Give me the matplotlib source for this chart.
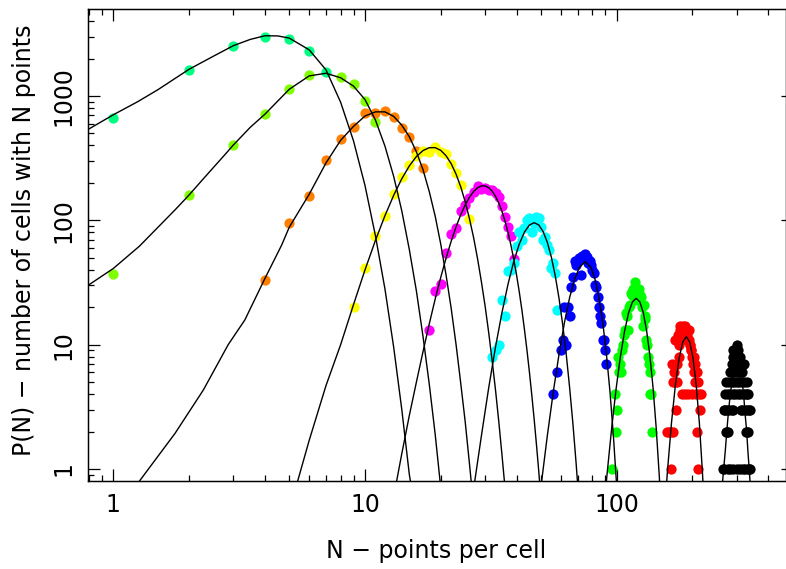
import matplotlib.pyplot as plt
from matplotlib.ticker import NullFormatter, NullLocator

plt.rcParams['font.family'] = ['DejaVu Sans']
plt.rcParams['font.size'] = 17

# measured counts: N (points per cell) and P(N) for each cell size
n1 = [1, 2, 3, 4, 5, 6, 7]
p1 = [670, 1620, 2540, 3000, 2860, 2290, 1570]

n2 = [1, 2, 3, 4, 5, 6, 8, 9, 10, 11]
p2 = [37, 160, 404, 713, 1132, 1475, 1414, 1250, 912, 615]

n3 = [4, 5, 6, 7, 8, 9, 10, 11, 12, 13, 14, 15, 16, 17]
p3 = [33, 95, 158, 304, 449, 560, 726, 728, 762, 682, 556, 471, 361, 262]

n4 = [9, 10, 11, 12, 13, 14, 15, 16, 17, 18, 19, 20, 21, 22, 23, 24, 25, 26]
p4 = [20, 41, 75, 108, 162, 223, 279, 330, 363, 357, 387, 357, 342, 284, 239, 192, 133, 102]

n5 = [18, 19, 20, 21, 22, 23, 24, 25, 26, 27, 28, 29, 30, 31, 32, 33, 34, 35, 36, 37, 38, 39]
p5 = [13, 27, 31, 55, 78, 87, 118, 133, 152, 170, 188, 180, 182, 176, 174, 165, 155, 130, 107, 89, 75, 49]

n6 = [32, 33, 34, 35, 36, 37, 38, 39, 40, 41, 42, 43, 44, 45, 46, 47, 48, 49, 50,
      51, 52, 53, 54, 55, 56, 57, 58]
p6 = [8, 9, 10, 23, 17, 39, 40, 45, 62, 81, 70, 86, 100, 104, 81, 95, 107, 104, 89,
      69, 74, 63, 58, 41, 45, 38, 19]

n7 = [56, 58, 60, 61, 62, 63, 64, 65, 66, 67, 68, 69, 70, 71, 72, 73, 74, 75, 76,
      77, 78, 79, 80, 81, 82, 83, 84, 85, 86, 87, 88, 89, 90, 91]
p7 = [4, 6, 9, 11, 20, 10, 20, 17, 29, 35, 47, 44, 48, 50, 36, 52, 50, 54, 51,
      45, 47, 44, 40, 38, 30, 29, 24, 20, 17, 15, 11, 11, 9, 7]

n8 = [96, 98, 99, 100, 101, 102, 103, 104, 105, 106, 107, 108, 109, 110, 111, 112,
      113, 114, 115, 116, 117, 118, 119, 120, 121, 122, 123, 124, 125, 126, 127,
      128, 129, 130, 131, 132, 133, 134, 135, 136, 137, 138]
p8 = [1, 4, 2, 3, 8, 6, 7, 6, 9, 10, 12, 13, 18, 17, 13, 20,
      21, 26, 25, 28, 27, 32, 25, 23, 26, 24, 28, 25, 24, 20, 14,
      21, 17, 16, 11, 10, 8, 7, 6, 4, 4, 2]

n9 = [159, 161, 164, 165, 166, 167, 168, 169, 170, 171, 172, 173, 174, 175, 176,
      177, 178, 179, 180, 181, 182, 183, 184, 185, 186, 187, 188, 189, 190, 191,
      192, 193, 194, 195, 196, 197, 198, 199, 200, 201, 202, 203, 204, 205, 206,
      207, 208, 209, 210, 211, 212, 214, 216]
p9 = [2, 2, 1, 2, 7, 5, 2, 6, 5, 11, 3, 7, 5, 12, 8,
      10, 13, 14, 11, 4, 12, 14, 13, 13, 4, 14, 12, 13, 12, 11,
      4, 11, 13, 10, 10, 9, 9, 4, 8, 7, 6, 8, 5, 7, 4,
      6, 6, 2, 5, 1, 4, 3, 4]

n10 = [264, 268, 276, 283, 291, 300, 309, 317, 324, 331, 336, 340,
       271, 274, 277, 325, 328, 331,
       266, 270, 275, 280, 286, 290, 311, 316, 322, 328, 334, 339,
       270, 276, 282, 289, 296, 303, 310, 317, 324, 330, 333,
       273, 279, 286, 293, 300, 307, 314, 321, 328,
       282, 288, 295, 302, 309, 316,
       286, 292, 299, 306, 313, 320,
       291, 297, 303, 308,
       291, 297, 304,
       300]
p10 = [1] * 12 + [2] * 6 + [3] * 12 + [4] * 11 + [5] * 9 + [6] * 6 + [7] * 6 + [8] * 4 + [9] * 3 + [10]

colors = ['#00ff80', '#80ff00', '#ff8000', '#ffff00', '#ff00ff',
          '#00ffff', '#0000ff', '#00ff00', '#ff0000', '#000000']

# model curves
c1x = [0.79, 1, 1.25, 1.5, 2, 2.5, 3, 3.5, 4, 4.5, 5, 6, 7, 8, 9, 10, 11, 12, 13, 14, 15, 15.5]
c1y = [535, 706, 900, 1120, 1640, 2090, 2540, 2850, 3050, 3040, 2920, 2350, 1620, 890,
       435, 190, 75, 28, 9.5, 3.0, 0.9, 0.6]

c2x = [0.79, 1, 1.27, 1.77, 2, 2.27, 2.77, 3, 3.5, 4, 5, 6, 7, 8, 9, 10, 11, 12, 13,
       14, 15, 16, 17, 18, 19, 20]
c2y = [29.8, 41, 62, 123, 160, 214, 336, 404, 560, 713, 1132, 1450, 1523, 1400, 1200,
       935, 640, 395, 225, 119, 58, 27, 11.6, 4.8, 1.9, 0.7]

c3x = [1.27, 1.76, 2.28, 2.86, 3.33, 4, 4.66, 5, 6, 7, 8, 9, 10, 11, 12, 13, 14, 15,
       16, 17, 18, 19, 20, 21, 22, 23, 24, 25, 26, 27]
c3y = [0.8, 1.94, 4.33, 10, 15.8, 34, 63, 88, 162, 290, 440, 570, 690, 745, 745, 685,
       582, 470, 355, 255, 170, 108, 64, 36, 19.5, 10, 4.9, 2.4, 1.1, 0.5]

c4x = [5.3, 6, 7, 8, 9, 10, 11, 12, 13, 14, 15, 16, 17, 18, 19, 20, 21, 22, 23, 24,
       25, 26, 27, 28, 29, 30, 31, 32, 33, 34, 35, 36, 37]
c4y = [0.7, 1.7, 4.7, 10, 21, 40, 69, 109, 159, 216, 274, 326, 364, 384, 384, 365, 330,
       285, 235, 186, 141, 103, 72.6, 49, 32, 20.4, 12.5, 7.4, 4.3, 2.4, 1.3, 0.7, 0.4]

c5x = [13, 14, 15, 16, 17, 18, 19, 20, 21, 22, 23, 24, 25, 26, 27, 28, 29, 30, 31, 32,
       33, 34, 35, 36, 37, 38, 39, 40, 41, 42, 43, 44, 45, 46, 47, 48, 49, 50]
c5y = [0.6, 1.33, 2.7, 5.0, 8.8, 14.7, 23.3, 34.9, 49.9, 68, 88.7, 110.8, 133, 153.5,
       170.5, 182.7, 189, 189, 182.9, 171.5, 155.9, 137.6, 117.9, 98.3, 79.7, 62.9,
       48.4, 36.3, 26.6, 19.0, 13.2, 9.0, 6.0, 3.9, 2.5, 1.56, 0.96, 0.57]

c6x = [27, 29, 31, 33, 35, 37, 39, 41, 43, 45, 47, 49, 51, 53, 55, 57, 59, 61, 63, 65,
       67, 69, 71]
c6y = [0.69, 1.85, 4.5, 9.6, 18.1, 30.7, 46.8, 64.4, 80.5, 91.7, 95.7, 91.8, 81.2, 66.5,
       50.5, 35.7, 23.5, 14.5, 8.4, 4.5, 2.3, 1.1, 0.5]

c7x = [50, 53, 56, 59, 62, 65, 68, 71, 75, 79, 82, 85, 88, 91, 94, 97, 100, 102]
c7y = [0.72, 1.85, 4.2, 8.4, 15.1, 23.9, 33.5, 41.8, 46.5, 41.8, 33.5, 23.9, 15.1, 8.4,
       4.2, 1.85, 0.72, 0.4]

c8x = [89.5, 91.5, 95.5, 99.5, 103.5, 107.5, 111.5, 115.5, 119.5, 123.5, 127.5, 131.5,
       135.5, 139.5, 143.5, 147.5, 149.5, 151.5]
c8y = [0.55, 0.90, 2.14, 4.46, 8.1, 12.9, 18.1, 22.1, 23.6, 22.1, 18.1, 12.9, 8.1, 4.46,
       2.14, 0.90, 0.55, 0.33]

c9x = [153, 156, 159, 165, 171, 177, 183, 189, 195, 201, 207, 213, 219, 222, 225]
c9y = [0.33, 0.56, 0.95, 2.34, 4.72, 7.78, 10.5, 11.6, 10.5, 7.78, 4.72, 2.34, 0.95, 0.56, 0.33]

c10x = [262, 266, 270, 274, 278, 283, 290, 297, 301, 305, 312, 319, 323, 328, 332, 336, 340]
c10y = [0.7, 1.0, 1.4, 2.06, 2.9, 4.1, 5.7, 6.8, 7.0, 6.8, 5.7, 4.1, 2.9, 2.06, 1.4, 1.0, 0.7]

series = [(n1, p1), (n2, p2), (n3, p3), (n4, p4), (n5, p5),
          (n6, p6), (n7, p7), (n8, p8), (n9, p9), (n10, p10)]
curves = [(c1x, c1y), (c2x, c2y), (c3x, c3y), (c4x, c4y), (c5x, c5y),
          (c6x, c6y), (c7x, c7y), (c8x, c8y), (c9x, c9y), (c10x, c10y)]

fig = plt.figure(figsize=(7.86, 5.69), dpi=100)
ax = fig.add_axes([0.1116, 0.1547, 0.8878, 0.8290])

for (n, p), col in zip(series, colors):
    ax.plot(n, p, 'o', color=col, ms=7.4, mec='none', zorder=2)
for cx, cy in curves:
    ax.plot(cx, cy, '-', color='k', lw=1.0, zorder=3)

ax.set_xscale('log')
ax.set_yscale('log')
ax.set_xlim(0.791, 468.5)
ax.set_ylim(0.801, 4980)

ax.set_xticks([1, 10, 100])
ax.set_xticklabels(['1', '10', '100'])
ax.set_yticks([1, 10, 100, 1000])
ax.set_yticklabels(['1', '10', '100', '1000'], rotation=90, va='center')
ax.xaxis.set_minor_formatter(NullFormatter())
ax.yaxis.set_minor_formatter(NullFormatter())

ax.tick_params(which='both', direction='in', top=True, right=False, width=0.9)
ax.tick_params(which='major', length=8.6)
ax.tick_params(which='minor', length=4.6)
ax.tick_params(axis='x', pad=9)
ax.tick_params(axis='y', pad=9)
for s in ax.spines.values():
    s.set_linewidth(1.0)

# right axis: short major ticks only
ax2 = ax.twinx()
ax2.set_yscale('log')
ax2.set_ylim(ax.get_ylim())
ax2.yaxis.set_minor_locator(NullLocator())
ax2.set_yticks([1, 10, 100, 1000])
ax2.tick_params(axis='y', direction='in', length=3.6, width=0.9, labelright=False)

fig.text(0.5555, 1 - 551 / 569, 'N − points per cell', ha='center', va='center')
fig.text(24 / 786, 1 - 240 / 569, 'P(N) − number of cells with N points',
         ha='center', va='center', rotation=90)

fig.savefig('out.png', dpi=100)
